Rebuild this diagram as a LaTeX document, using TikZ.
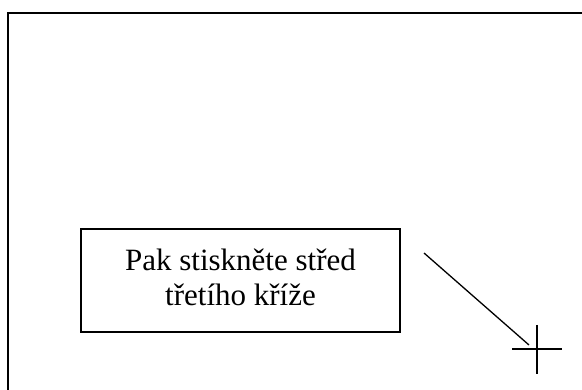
\documentclass[tikz,border=0pt]{standalone}
\usepackage{fontspec}
\setmainfont{Liberation Serif}
\begin{document}
\begin{tikzpicture}[x=1pt,y=-1pt,
  frameline/.style={line width=2pt},
  thinline/.style={line width=1.3pt},
  msgbox/.style={draw,line width=1.3pt,minimum width=319pt,minimum height=103pt,inner sep=0pt},
  msgtext/.style={align=center,inner sep=0pt,font=\fontsize{31}{35}\selectfont}]
  \useasboundingbox (0,0) rectangle (582,390);
  % screen edge (top and left)
  \coordinate (tr) at (582,13);
  \coordinate (tl) at (8,13);
  \coordinate (bl) at (8,390);
  \draw[frameline] (tr) -- (tl) -- (bl);
  % instruction box with its two-line message
  \node[msgbox,label={[msgtext,yshift=3pt]center:Pak stiskněte střed\\třetího kříže}] (msg) at (240.5,280.5) {};
  % target cross
  \coordinate (c) at (537,349);
  \coordinate (cl) at (512,349);
  \coordinate (cr) at (562,349);
  \coordinate (ct) at (537,325);
  \coordinate (cb) at (537,374);
  \draw[thinline] (cl) -- (cr);
  \draw[thinline] (ct) -- (cb);
  % pointer line
  \coordinate (p0) at (424,253);
  \coordinate (p1) at (529,345);
  \draw[thinline] (p0) -- (p1);
\end{tikzpicture}
\end{document}
